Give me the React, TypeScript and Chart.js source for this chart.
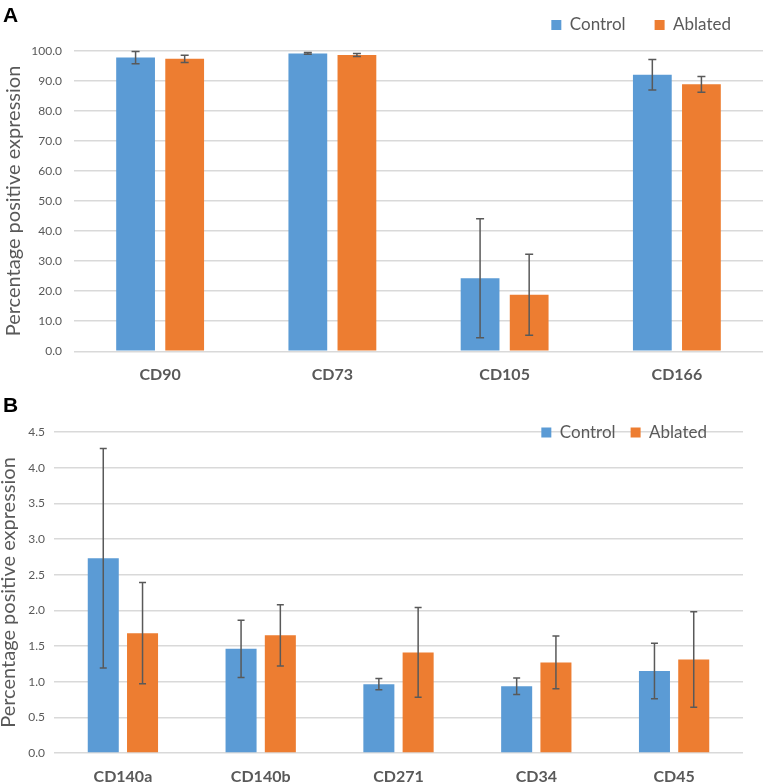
import React, { useEffect, useRef } from "react";
import { Chart, registerables } from "chart.js";

Chart.register(...registerables);

// ---------- Data ----------
const categoriesA = ["CD90", "CD73", "CD105", "CD166"];
const controlA = [97.7, 99.1, 24.3, 92.0];
const controlErrA = [2.0, 0.3, 19.8, 5.1];
const ablatedA = [97.3, 98.6, 18.8, 88.8];
const ablatedErrA = [1.2, 0.5, 13.5, 2.6];

const categoriesB = ["CD140a", "CD140b", "CD271", "CD34", "CD45"];
const controlB = [2.73, 1.46, 0.965, 0.935, 1.15];
const controlErrB = [1.54, 0.4, 0.08, 0.115, 0.39];
const ablatedB = [1.68, 1.65, 1.41, 1.27, 1.31];
const ablatedErrB = [0.71, 0.43, 0.63, 0.37, 0.67];

const seriesNames = ["Control", "Ablated"];
const yTitle = "Percentage positive expression";

const BLUE = "#5b9bd5";
const ORANGE = "#ed7d31";
const TEXT = "#595959";
const GRID = "#d9d9d9";
const FONT = "Lato, 'Open Sans', sans-serif";

// ---------- Plugins ----------
const errorBarsPlugin = {
  id: "errorBars",
  afterDatasetsDraw(chart: any, _args: any, opts: any) {
    const ctx = chart.ctx;
    const yScale = chart.scales.y;
    chart.data.datasets.forEach((ds: any, di: number) => {
      const meta = chart.getDatasetMeta(di);
      if (!ds.errors) return;
      meta.data.forEach((bar: any, i: number) => {
        const v = ds.data[i];
        const e = ds.errors[i];
        const yTop = yScale.getPixelForValue(v + e);
        const yBot = yScale.getPixelForValue(v - e);
        const x = bar.x;
        const cap = opts.cap || 4;
        ctx.save();
        ctx.strokeStyle = "#595959";
        ctx.lineWidth = 1.5;
        ctx.beginPath();
        ctx.moveTo(x, yTop);
        ctx.lineTo(x, yBot);
        ctx.moveTo(x - cap, yTop);
        ctx.lineTo(x + cap, yTop);
        ctx.moveTo(x - cap, yBot);
        ctx.lineTo(x + cap, yBot);
        ctx.stroke();
        ctx.restore();
      });
    });
  },
};

const legendPlacePlugin = {
  id: "legendPlace",
  afterLayout(chart: any, _args: any, opts: any) {
    const lg = chart.legend;
    if (!lg) return;
    const pad = lg.options.labels.padding;
    const fs = lg.options.labels.font.size;
    const w = lg.width;
    const h = lg.height;
    lg.top = opts.centerY - pad - fs / 2;
    lg.bottom = lg.top + h;
    lg.right = opts.textEnd + pad;
    lg.left = lg.right - w;
  },
};

// ---------- Chart panel ----------
type PanelProps = {
  width: number;
  height: number;
  top: number;
  labels: string[];
  control: number[];
  controlErr: number[];
  ablated: number[];
  ablatedErr: number[];
  yMax: number;
  yStep: number;
  yWidth: number;
  xHeight: number;
  legendHeight: number;
  legendPad: number;
  legendCenterY: number;
  legendTextEnd: number;
  rightPad: number;
  tickPad: number;
  xTickPad: number;
  titlePad: number;
  cap: number;
};

function Panel(p: PanelProps) {
  const ref = useRef<HTMLCanvasElement | null>(null);
  useEffect(() => {
    if (!ref.current) return;
    const chart = new Chart(ref.current, {
      type: "bar",
      data: {
        labels: p.labels,
        datasets: [
          {
            label: seriesNames[0],
            data: p.control,
            errors: p.controlErr,
            backgroundColor: BLUE,
            borderWidth: 0,
            categoryPercentage: 0.57,
            barPercentage: 0.79,
          } as any,
          {
            label: seriesNames[1],
            data: p.ablated,
            errors: p.ablatedErr,
            backgroundColor: ORANGE,
            borderWidth: 0,
            categoryPercentage: 0.57,
            barPercentage: 0.79,
          } as any,
        ],
      },
      options: {
        animation: false,
        responsive: false,
        devicePixelRatio: 1,
        layout: { padding: { top: 0, left: 0, right: p.rightPad, bottom: 0 } },
        plugins: {
          tooltip: { enabled: false },
          legend: {
            position: "top",
            align: "end",
            maxHeight: p.legendHeight,
            labels: {
              boxWidth: 10,
              boxHeight: 10,
              padding: p.legendPad,
              color: TEXT,
              font: { family: FONT, size: 17 },
            },
          },
          errorBars: { cap: p.cap },
          legendPlace: { centerY: p.legendCenterY, textEnd: p.legendTextEnd },
        } as any,
        scales: {
          x: {
            grid: { display: false, drawTicks: false },
            border: { display: false },
            ticks: {
              color: TEXT,
              padding: p.xTickPad,
              font: { family: FONT, size: 16, weight: "bold" },
            },
            afterFit: (s: any) => {
              s.height = p.xHeight;
            },
          },
          y: {
            min: 0,
            max: p.yMax,
            grid: { color: GRID, lineWidth: 1.5, drawTicks: false },
            border: { display: false },
            ticks: {
              stepSize: p.yStep,
              color: TEXT,
              padding: p.tickPad,
              font: { family: FONT, size: 12 },
              callback: (v: any) => Number(v).toFixed(1),
            },
            title: {
              display: true,
              text: yTitle,
              color: TEXT,
              padding: { top: p.titlePad, bottom: 0 },
              font: { family: FONT, size: 20, lineHeight: 1 },
            },
            afterFit: (s: any) => {
              s.width = p.yWidth;
            },
          },
        },
      },
      plugins: [errorBarsPlugin, legendPlacePlugin],
    });
    return () => chart.destroy();
  }, []);
  return (
    <canvas
      ref={ref}
      width={p.width}
      height={p.height}
      style={{ position: "absolute", left: 0, top: p.top, display: "block" }}
    />
  );
}

const panelLabel: React.CSSProperties = {
  position: "absolute",
  left: 3,
  fontFamily: "'Liberation Sans', Arial, sans-serif",
  fontWeight: "bold",
  fontSize: 21,
  lineHeight: "21px",
  color: "#000",
};

export default function App() {
  return (
    <div
      style={{
        position: "absolute",
        left: 0,
        top: 0,
        width: 763,
        height: 783,
        background: "#fff",
        overflow: "hidden",
      }}
    >
      <Panel
        width={763}
        height={390}
        top={0}
        labels={categoriesA}
        control={controlA}
        controlErr={controlErrA}
        ablated={ablatedA}
        ablatedErr={ablatedErrA}
        yMax={100}
        yStep={10}
        yWidth={74}
        xHeight={38.7}
        legendHeight={50.7}
        legendPad={29}
        legendCenterY={25}
        legendTextEnd={731}
        rightPad={0}
        tickPad={12}
        xTickPad={14}
        titlePad={4}
        cap={4}
      />
      <Panel
        width={763}
        height={393}
        top={390}
        labels={categoriesB}
        control={controlB}
        controlErr={controlErrB}
        ablated={ablatedB}
        ablatedErr={ablatedErrB}
        yMax={4.5}
        yStep={0.5}
        yWidth={54}
        xHeight={30}
        legendHeight={61.3}
        legendPad={15}
        legendCenterY={42.5}
        legendTextEnd={707}
        rightPad={20}
        tickPad={9}
        xTickPad={14}
        titlePad={-1}
        cap={3.5}
      />
      <div style={{ ...panelLabel, top: 4 }}>A</div>
      <div style={{ ...panelLabel, top: 394 }}>B</div>
    </div>
  );
}
